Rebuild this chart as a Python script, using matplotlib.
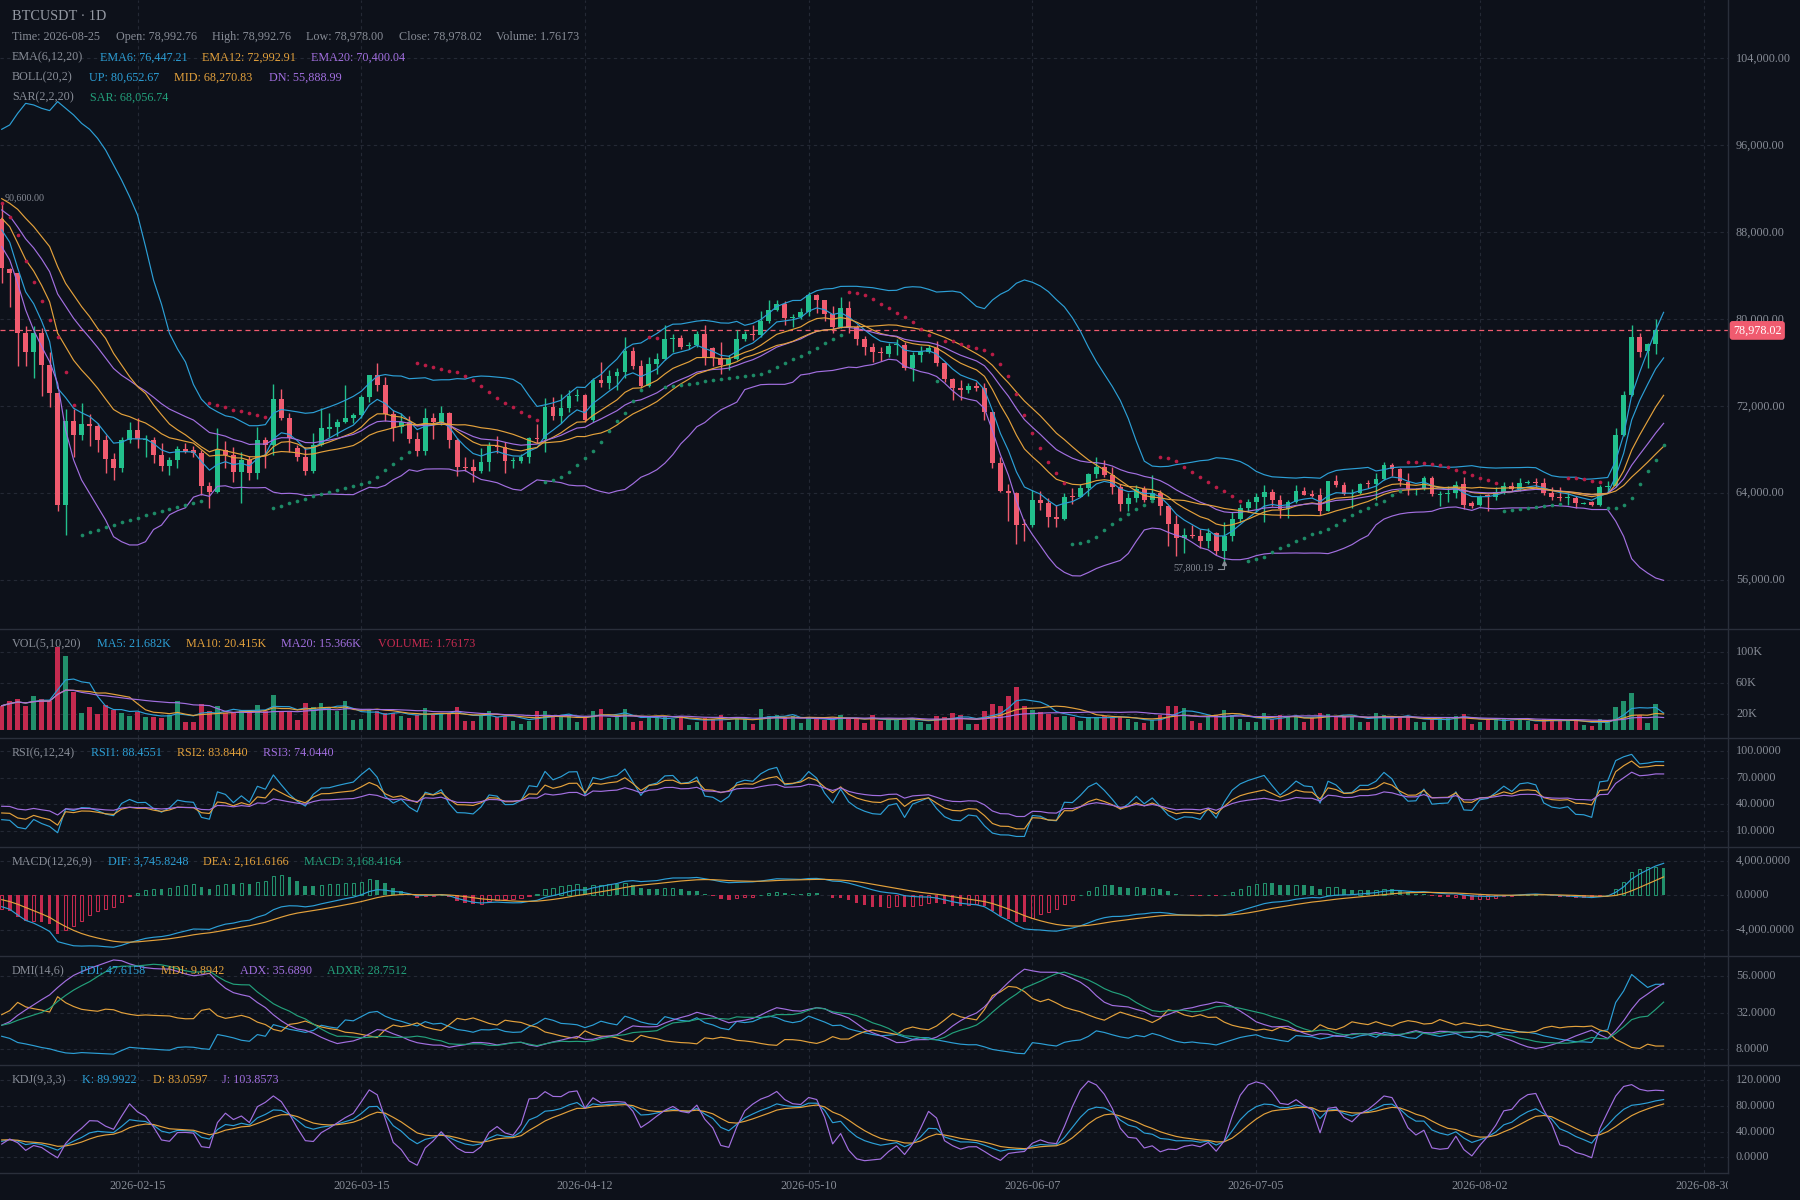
import numpy as np
import matplotlib
matplotlib.use("Agg")
import matplotlib.pyplot as plt
import matplotlib.transforms as mtransforms
from matplotlib.lines import Line2D
from datetime import date

plt.rcParams['font.family'] = ['Liberation Serif', 'DejaVu Serif']

# ---------------- data ----------------
start_date = date(2026, 1, 29)

opens = [89200, 84630, 84230, 78710, 77030, 78710, 75800, 73250, 62920, 70650,
         69360, 70340, 70190, 68900, 67180, 66350, 68900, 69820, 68950, 68900,
         67520, 66510, 67060, 68070, 67970, 67730, 64700, 64140, 67970, 67520,
         65980, 67060, 65890, 68900, 68440, 72640, 70890, 68130, 67360, 66080,
         68440, 69900, 70060, 70520, 70950, 71200, 72820, 74880, 73960, 71290,
         70060, 70520, 68990, 67880, 70950, 70520, 71410, 68900, 66440, 66440,
         66080, 66840, 68380, 68220, 66960, 66990, 67360, 69110, 68960, 71960,
         71140, 71810, 72950, 73040, 70740, 74420, 74170, 74790, 75190, 77090,
         75740, 73870, 75890, 76350, 78220, 78310, 77550, 77670, 78650, 77330,
         76410, 75800, 76350, 78190, 78650, 78560, 79850, 80860, 81410, 80090,
         80180, 80640, 82240, 81780, 80490, 79330, 81010, 79260, 78190, 77420,
         76960, 76810, 77610, 77640, 75550, 76720, 77030, 77330, 76010, 74510,
         73650, 73500, 73870, 73710, 71500, 66810, 64210, 63990, 61170, 61080,
         63380, 63130, 61840, 61600, 63700, 63620, 64510, 65770, 66440, 65680,
         64600, 63010, 63530, 64390, 63380, 63990, 62860, 61170, 59910, 60160,
         60070, 59640, 60310, 58720, 60100, 61600, 62610, 63220, 63680, 64140,
         63380, 62520, 63220, 64210, 63900, 63840, 62360, 65130, 64760, 63900,
         63990, 64910, 64820, 65280, 66600, 66200, 65030, 64300, 64360, 65370,
         63870, 63930, 63990, 64850, 63070, 62920, 63780, 63620, 64140, 64670,
         64360, 64970, 65060, 64910, 63990, 63680, 63600, 63590, 63070, 63160,
         62920, 64600, 64700, 69360, 73040, 78410, 77090, 77700, 78992.76]

highs = [90600, 84700, 84300, 79390, 79390, 79170, 76960, 73250, 71720, 71720,
         72270, 71290, 70430, 69360, 67670, 69200, 70520, 70950, 69360, 69200,
         68590, 67360, 68350, 68590, 68350, 67970, 65060, 69970, 68840, 68220,
         67820, 67430, 70120, 69200, 74050, 73560, 71410, 68440, 68220, 69510,
         71810, 71350, 70800, 73960, 71350, 73040, 74880, 75950, 74660, 71660,
         71350, 71100, 69660, 71810, 71410, 72030, 71500, 69050, 67360, 67120,
         68190, 68680, 69240, 68680, 67360, 67580, 69200, 70370, 72730, 72880,
         73130, 73500, 73590, 73130, 74630, 76040, 75340, 75500, 78410, 77420,
         76260, 76560, 76870, 79480, 78620, 78560, 77880, 78960, 79480, 77490,
         77880, 76720, 79020, 78930, 79480, 80770, 81780, 81780, 81690, 80490,
         81010, 82480, 82330, 81780, 81260, 82020, 81690, 79480, 78500, 77790,
         77490, 77790, 78190, 77950, 77030, 77550, 77640, 78040, 76100, 74630,
         74420, 74170, 74270, 74110, 71500, 67360, 64850, 64140, 61600, 64300,
         64210, 63530, 62920, 63990, 64510, 64850, 65890, 67360, 67060, 66440,
         64850, 63990, 64760, 64670, 65680, 64300, 62920, 62000, 60770, 61080,
         60680, 60770, 60470, 61380, 62240, 62980, 63470, 63990, 64760, 64360,
         63840, 63380, 64760, 64550, 64300, 64450, 65130, 65680, 65000, 64360,
         64910, 65220, 65830, 66900, 66750, 66290, 65830, 64510, 65590, 65590,
         64210, 64700, 65160, 65520, 63310, 63840, 63900, 64600, 65060, 65060,
         65430, 65220, 65370, 65430, 64600, 64540, 63990, 63750, 63160, 63280,
         64760, 65130, 70030, 73410, 79480, 78770, 77820, 80000, 78992.76]

lows = [83370, 81170, 75740, 75740, 74630, 72980, 71960, 62400, 60160, 67360,
        68900, 68350, 67820, 65830, 65220, 65980, 68590, 68130, 67360, 66750,
        66080, 65680, 66350, 67670, 67360, 63840, 62610, 64000, 66290, 65000,
        63130, 65220, 65340, 66290, 67520, 70740, 67820, 66990, 65680, 65890,
        68320, 69200, 69270, 70430, 70430, 70950, 72420, 73440, 70680, 68840,
        69510, 68590, 67430, 67520, 68990, 70280, 68130, 65590, 66080, 65060,
        65890, 66080, 67670, 65830, 66290, 66810, 66750, 68590, 67820, 70740,
        70490, 71500, 72520, 70520, 70520, 73810, 73560, 73500, 74570, 75430,
        73650, 73740, 74940, 76260, 77030, 77240, 77270, 77490, 75800, 75740,
        74970, 75340, 76260, 78010, 78100, 78410, 79630, 80800, 79480, 79330,
        80000, 80310, 80550, 79880, 78770, 79170, 78710, 77640, 76720, 76100,
        76200, 76560, 76720, 75340, 74360, 76100, 76870, 75740, 74270, 72580,
        72580, 73250, 73440, 70740, 66290, 64140, 61470, 59300, 59640, 60860,
        62460, 60860, 60860, 61540, 62980, 63620, 63780, 65370, 65460, 63930,
        62400, 62400, 63220, 63220, 63380, 62000, 59140, 58220, 58460, 59850,
        58930, 58990, 58320, 57800.19, 59640, 61320, 62310, 62310, 61380, 62830,
        61690, 61750, 63070, 63840, 63690, 62000, 62360, 64600, 63840, 62610,
        63900, 64450, 63380, 65220, 65590, 64670, 63840, 63840, 64300, 63750,
        62830, 63200, 63600, 62550, 62610, 62860, 62400, 63380, 63900, 64210,
        64210, 64880, 64600, 63840, 63380, 63280, 62920, 62610, 63010, 62830,
        62830, 64140, 64600, 69300, 72980, 76560, 75550, 76780, 78978.00]

closes = [84690, 84290, 78770, 77030, 78710, 75830, 73250, 62920, 70650, 69360,
          70370, 70190, 68900, 67180, 66350, 68900, 69820, 68960, 69000, 67520,
          66510, 67060, 68070, 67820, 67730, 64700, 64140, 67970, 67520, 65980,
          67060, 65890, 68900, 68440, 72640, 70950, 69050, 67360, 66080, 68440,
          69970, 70060, 70520, 70890, 71200, 72820, 74880, 73960, 71290, 69970,
          70520, 68990, 67880, 70950, 70520, 71410, 68900, 66440, 66350, 66080,
          66840, 68380, 68220, 66990, 67000, 67360, 69050, 68960, 71960, 71140,
          71810, 72980, 73040, 70740, 74420, 74170, 74790, 75190, 77090, 75740,
          73870, 75890, 76350, 78190, 78310, 77490, 77670, 78650, 76560, 76410,
          75800, 76350, 78190, 78650, 78560, 79850, 80860, 81410, 80090, 80250,
          80640, 82240, 81780, 80490, 79330, 81010, 79260, 78190, 77490, 76990,
          76870, 77550, 77700, 75550, 76720, 77030, 77330, 76010, 74510, 73650,
          73500, 73870, 73710, 71500, 66810, 64210, 63990, 61080, 61080, 63380,
          63130, 61840, 61600, 63680, 63620, 64510, 65770, 66440, 65680, 64600,
          63010, 63530, 64390, 63380, 63990, 62860, 61170, 59910, 60160, 60070,
          59640, 60370, 58720, 60100, 61600, 62610, 63220, 63680, 64140, 63380,
          62520, 63220, 64210, 63840, 63780, 62360, 65130, 64760, 63900, 63990,
          64820, 64820, 65280, 66600, 66200, 65160, 64360, 64390, 65370, 63900,
          63960, 63990, 64790, 62920, 62860, 63620, 63720, 64140, 64670, 64360,
          64970, 65060, 64970, 63990, 63680, 63590, 63650, 63130, 63100, 62920,
          64600, 64700, 69360, 73040, 78410, 77030, 77700, 78992.76, 78978.02]

volumes_k = [31, 36.5, 40, 31, 43, 40, 37, 107, 94.6, 48.6,
             22, 30, 20.6, 32, 26, 21.5, 18, 23, 16, 17,
             15, 19, 36.5, 9.5, 9.5, 33.5, 23.6, 31, 22, 22,
             26, 23.6, 32, 24.5, 45, 24.5, 23, 13, 35, 29,
             35, 29, 24.5, 36.5, 13, 14, 26, 24.5, 21.5, 21.5,
             18, 15, 19, 28, 19, 20, 21.5, 29, 11.6, 10.8,
             19, 23.6, 17, 18, 11.6, 7.3, 11.6, 23.6, 24.5, 17,
             17, 19, 9.5, 17, 24.5, 26.7, 15, 16.3, 26.7, 9.5,
             11.6, 17, 15, 18, 14, 18, 6.5, 9.5, 15, 14,
             19, 9.5, 17, 14, 7.3, 27, 18, 19, 16, 18,
             8.6, 16.3, 14, 13, 13, 19, 15, 14, 8.6, 19,
             11.6, 13, 13, 13, 15, 9.5, 7.7, 18, 16.3, 21.5,
             19, 7.7, 7.7, 24.5, 33.5, 31, 43.9, 55, 31, 26,
             23, 20.6, 16.3, 18, 16.3, 10.8, 16.3, 16.3, 18, 17,
             16.3, 14, 10, 8.6, 13, 19, 31, 31, 28, 10.8,
             8.6, 18, 19, 26, 19, 14, 9.5, 9.5, 21.5, 14,
             19, 18, 18, 9.5, 16.3, 21.5, 20.6, 18, 18, 18,
             9.5, 9.5, 21.5, 19, 16.3, 16.3, 18, 9.5, 9.5, 14,
             16.3, 16.3, 18, 20, 7.3, 9.5, 14, 15, 14, 10.8,
             14, 10.8, 7.7, 14, 12, 14, 12, 10.8, 6.5, 5.2,
             14, 10.8, 29, 36.5, 47, 19.4, 8.6, 33, 0.00176]

# indicator state at the left edge of the chart (history before the first visible candle)
boll_head_up = [97480, 97880, 98950, 99870, 99720, 99410, 99200, 100030, 99410, 98800,
                98030, 97480, 96650, 95580, 94200, 92820, 91290, 89600, 86690]
boll_head_mid = [91100, 90670, 90120, 89290, 88530, 87610, 86690, 84850, 83310, 82240,
                 81170, 80250, 79170, 78250, 76870, 75800, 74730, 73810, 73190]
boll_head_dn = [86690, 85460, 83310, 80860, 79020, 77490, 76100, 74110, 69820, 67060,
                65220, 63990, 62760, 61540, 60000, 59540, 59240, 59240, 59540]
ema_seed = {6: 88220, 12: 89290, 20: 90060}
ema26_seed = 90590
dea_seed = -490
sar_seed, sar_seed_af = 90700, 0.18
rsi_seed = {6: 22.9, 12: 30.4, 24: 37.9}
rsi_seed_loss = 1800
dmi_seed_pdi, dmi_seed_mdi, dmi_seed_adx, dmi_seed_atr = 16.5, 30.6, 23.7, 3000
kdj_seed = 28

x_tick_labels = ['2026-02-15', '2026-03-15', '2026-04-12', '2026-05-10',
                 '2026-06-07', '2026-07-05', '2026-08-02', '2026-08-30']

price_ticks = [56000, 64000, 72000, 80000, 88000, 96000, 104000]
vol_ticks = [20000, 60000, 100000]
rsi_ticks = [10, 40, 70, 100]
macd_ticks = [-4000, 0, 4000]
dmi_ticks = [8, 32, 56]
kdj_ticks = [0, 40, 80, 120]

# ---------------- indicators ----------------
o = np.array(opens, float); h = np.array(highs, float)
l = np.array(lows, float); c = np.array(closes, float)
v = np.array(volumes_k, float) * 1000
N = len(c)
x = np.arange(N)


def ema(vals, n, seed):
    out = np.zeros(len(vals)); out[0] = seed
    for i in range(1, len(vals)):
        out[i] = (2 * vals[i] + (n - 1) * out[i - 1]) / (n + 1)
    return out


def sma_expanding(vals, n):
    out = np.zeros(len(vals))
    for i in range(len(vals)):
        out[i] = vals[max(0, i - n + 1):i + 1].mean()
    return out


ema6 = ema(c, 6, ema_seed[6]); ema12 = ema(c, 12, ema_seed[12]); ema20 = ema(c, 20, ema_seed[20])

bmid = np.zeros(N); bup = np.zeros(N); bdn = np.zeros(N)
nh = len(boll_head_mid)
for i in range(N):
    if i < nh:
        bmid[i], bup[i], bdn[i] = boll_head_mid[i], boll_head_up[i], boll_head_dn[i]
    else:
        w = c[i - 19:i + 1]
        m = w.mean(); s = w.std()
        bmid[i], bup[i], bdn[i] = m, m + 2 * s, m - 2 * s

# SAR
sar = np.zeros(N); sar_up = np.zeros(N, bool)
s_val = sar_seed; ep = l[0]; af = sar_seed_af; rising = False
sar[0] = s_val
for i in range(1, N):
    s_new = s_val + af * (ep - s_val)
    if rising:
        if l[i] < s_new:
            rising = False; s_new = ep; ep = l[i]; af = 0.02
        elif h[i] > ep:
            ep = h[i]; af = min(af + 0.02, 0.2)
    else:
        if h[i] > s_new:
            rising = True; s_new = ep; ep = h[i]; af = 0.02
        elif l[i] < ep:
            ep = l[i]; af = min(af + 0.02, 0.2)
    sar[i] = s_new; sar_up[i] = rising; s_val = s_new

vma5 = sma_expanding(v, 5); vma10 = sma_expanding(v, 10); vma20 = sma_expanding(v, 20)

diff = np.concatenate([[0], np.diff(c)])


def rsi(n):
    out = np.zeros(N)
    al = rsi_seed_loss
    ag = al * rsi_seed[n] / (100 - rsi_seed[n])
    out[0] = rsi_seed[n]
    for i in range(1, N):
        g = max(diff[i], 0); ls = max(-diff[i], 0)
        ag = (ag * (n - 1) + g) / n
        al = (al * (n - 1) + ls) / n
        out[i] = 100 * ag / (ag + al) if ag + al > 0 else 50
    return out


rsi1, rsi2, rsi3 = rsi(6), rsi(12), rsi(24)

m12 = ema(c, 12, ema_seed[12]); m26 = ema(c, 26, ema26_seed)
dif = m12 - m26
dea = ema(dif, 9, dea_seed)
macd = 2 * (dif - dea)

# DMI (Wilder smoothing, seeded with the values at the left edge)
mtr = dmi_seed_atr * 14
dmp = mtr * dmi_seed_pdi / 100
dmm = mtr * dmi_seed_mdi / 100
pdi = np.zeros(N); mdi = np.zeros(N); adx = np.zeros(N)
pdi[0], mdi[0], adx[0] = dmi_seed_pdi, dmi_seed_mdi, dmi_seed_adx
for i in range(1, N):
    pc, ph, pl = c[i - 1], h[i - 1], l[i - 1]
    tr = max(h[i] - l[i], abs(h[i] - pc), abs(pc - l[i]))
    upm = h[i] - ph; dnm = pl - l[i]
    pdm = upm if (upm > 0 and upm > dnm) else 0
    mdm = dnm if (dnm > 0 and dnm > upm) else 0
    mtr = mtr - mtr / 14 + tr; dmp = dmp - dmp / 14 + pdm; dmm = dmm - dmm / 14 + mdm
    pdi[i] = dmp * 100 / mtr; mdi[i] = dmm * 100 / mtr
    dx = abs(mdi[i] - pdi[i]) / (mdi[i] + pdi[i]) * 100 if (mdi[i] + pdi[i]) else 0
    adx[i] = (adx[i - 1] * 5 + dx) / 6
adxr = np.array([(adx[i] + (adx[i - 5] if i >= 5 else dmi_seed_adx)) / 2 for i in range(N)])

# KDJ
kk = np.zeros(N); dd = np.zeros(N)
pk, pd_ = float(kdj_seed), float(kdj_seed)
for i in range(N):
    lo = l[max(0, i - 8):i + 1].min(); hi = h[max(0, i - 8):i + 1].max()
    rsv = (c[i] - lo) / (hi - lo) * 100 if hi > lo else 50
    pk = (2 * pk + rsv) / 3; pd_ = (2 * pd_ + pk) / 3
    kk[i] = pk; dd[i] = pd_
jj = 3 * kk - 2 * dd

# ---------------- drawing ----------------
BG = '#0d111a'
GRID = '#242935'
SEP = '#2a2f3b'
GREY = '#878c96'
UP = '#22c08c'
DOWN = '#f05b6f'
VUP = '#22906c'
VDOWN = '#c42a4f'
BLUE = '#2c9fd6'
ORANGE = '#e3a13c'
PURPLE = '#a26fe0'
TEAL = '#23a07b'
CRIMSON = '#c62a50'
SAR_UP = '#1d8a66'
SAR_DN = '#b81d46'

W, H = 1800, 1200
AXR = 1728
PX = 7.99          # pixels per candle
X0 = 1.7           # pixel of first candle
XL = -X0 / PX
XR = (AXR - X0) / PX
FS = 8.7
LW = 0.85

fig = plt.figure(figsize=(18, 12), dpi=100, facecolor=BG)


def add_panel(top, bottom, ylim):
    ax = fig.add_axes([0, 1 - bottom / H, AXR / W, (bottom - top) / H])
    ax.set_facecolor(BG)
    for sp in ax.spines.values():
        sp.set_visible(False)
    ax.set_xticks([]); ax.set_yticks([])
    ax.set_xlim(XL, XR)
    ax.set_ylim(*ylim)
    return ax


tick_idx = [(date.fromisoformat(t) - start_date).days for t in x_tick_labels]


def grid(ax, yticks, fmt):
    for t in tick_idx:
        ax.axvline(t, color=GRID, lw=0.8, ls=(0, (3, 3)), zorder=0)
    for yv in yticks:
        ax.axhline(yv, color=GRID, lw=0.8, ls=(0, (3, 3)), zorder=0)
        ax.text(1 + 8 / AXR, yv, fmt(yv), transform=ax.get_yaxis_transform(),
                ha='left', va='center', color=GREY, fontsize=FS, clip_on=False)


def header(y, items):
    for xp, s, col in items:
        fig.text(xp / W, 1 - y / H, s, color=col, fontsize=FS, ha='left', va='center')


# main panel
axm = add_panel(0, 629, (51508, 109376))
grid(axm, price_ticks, lambda t: f"{t:,.2f}")
up = c >= o
col = np.where(up, UP, DOWN)
axm.vlines(x, l, h, colors=col, lw=1.0, zorder=3)
body_h = np.abs(c - o)
mid = (c + o) / 2
bh = np.maximum(body_h, 80)
axm.bar(x, bh, bottom=mid - bh / 2, width=0.6, color=col, linewidth=0, zorder=4)
for series, cl in [(ema6, BLUE), (ema12, ORANGE), (ema20, PURPLE),
                   (bup, BLUE), (bmid, ORANGE), (bdn, PURPLE)]:
    axm.plot(x, series, color=cl, lw=LW, zorder=5)
axm.scatter(x[sar_up], sar[sar_up], s=7, color=SAR_UP, zorder=6, linewidths=0)
axm.scatter(x[~sar_up], sar[~sar_up], s=7, color=SAR_DN, zorder=6, linewidths=0)
last = c[-1]
axm.axhline(last, color=DOWN, lw=0.9, ls=(0, (4, 3)), zorder=2)
axm.text(1 + 5 / AXR, last, f"{last:,.2f}", transform=axm.get_yaxis_transform(),
         ha='left', va='center', color='white', fontsize=FS, clip_on=False, zorder=10,
         bbox=dict(boxstyle='round,pad=0.28,rounding_size=0.25', fc=DOWN, ec='none'))

# max / min marks
imax = int(np.argmax(h)); imin = int(np.argmin(l))
axm.annotate(f"{h[imax]:,.2f}", xy=(imax, h[imax]), xytext=(1.8, 4.7), textcoords='offset points',
             ha='left', va='center', color=GREY, fontsize=7.3)
axm.annotate(f"{l[imin]:,.2f}", xy=(imin, l[imin]), xytext=(-7.5, -5.3), textcoords='offset points',
             ha='right', va='center', color=GREY, fontsize=7.3)
px_, py_ = axm.transData.transform((imin, l[imin]))
fig.add_artist(Line2D([px_ - 6, px_, px_], [py_ - 8, py_ - 8, py_ - 2], color=GREY, lw=0.8,
                      transform=mtransforms.IdentityTransform()))
fig.add_artist(Line2D([px_], [py_ - 2.5], marker='^', markersize=2.8, color=GREY, lw=0,
                      transform=mtransforms.IdentityTransform()))

# header texts
fig.text(12 / W, 1 - 16 / H, 'BTCUSDT · 1D', color='#9499a3', fontsize=10.3, ha='left', va='center')
header(36.7, [(12, 'Time: 2026-08-25', GREY), (115.5, 'Open: 78,992.76', GREY),
              (211.5, 'High: 78,992.76', GREY), (306, 'Low: 78,978.00', GREY),
              (398.8, 'Close: 78,978.02', GREY), (496.4, 'Volume: 1.76173', GREY)])
header(57.3, [(12, 'EMA(6,12,20)', GREY), (99.5, 'EMA6: 76,447.21', BLUE),
              (202, 'EMA12: 72,992.91', ORANGE), (311, 'EMA20: 70,400.04', PURPLE)])
header(77.3, [(12, 'BOLL(20,2)', GREY), (88.8, 'UP: 80,652.67', BLUE),
              (174.5, 'MID: 68,270.83', ORANGE), (268.7, 'DN: 55,888.99', PURPLE)])
header(97.3, [(12, 'SAR(2,2,20)', GREY), (89.6, 'SAR: 68,056.74', TEAL)])

# volume panel
axv = add_panel(629, 738, (-10600, 130000))
grid(axv, vol_ticks, lambda t: f"{int(t / 1000)}K")
axv.bar(x, v, width=0.55, color=np.where(up, VUP, VDOWN), linewidth=0, zorder=3)
for series, cl in [(vma5, BLUE), (vma10, ORANGE), (vma20, PURPLE)]:
    axv.plot(x, series, color=cl, lw=LW, zorder=5)
header(644, [(12, 'VOL(5,10,20)', GREY), (97, 'MA5: 21.682K', BLUE), (186, 'MA10: 20.415K', ORANGE),
             (281, 'MA20: 15.366K', PURPLE), (377.5, 'VOLUME: 1.76173', CRIMSON)])

# RSI panel
axr = add_panel(738, 847, (-7.7, 114.3))
grid(axr, rsi_ticks, lambda t: f"{t:.4f}")
for series, cl in [(rsi1, BLUE), (rsi2, ORANGE), (rsi3, PURPLE)]:
    axr.plot(x, series, color=cl, lw=LW, zorder=5)
header(753, [(12, 'RSI(6,12,24)', GREY), (91, 'RSI1: 88.4551', BLUE), (177, 'RSI2: 83.8440', ORANGE),
             (263, 'RSI3: 74.0440', PURPLE)])

# MACD panel: filled bars when the histogram falls, hollow bars when it rises
axc = add_panel(847, 956, (-7030, 5625))
grid(axc, macd_ticks, lambda t: f"{t:,.4f}")
prev = np.concatenate([[-np.inf], macd[:-1]])
rising_bar = macd > prev
mcol = np.where(macd >= 0, VUP, VDOWN)
axc.bar(x[~rising_bar], macd[~rising_bar], width=0.46, color=mcol[~rising_bar], linewidth=0, zorder=3)
axc.bar(x[rising_bar], macd[rising_bar], width=0.40, fill=False, edgecolor=mcol[rising_bar],
        linewidth=0.75, zorder=3)
axc.plot(x, dif, color=BLUE, lw=LW, zorder=5)
axc.plot(x, dea, color=ORANGE, lw=LW, zorder=5)
header(862, [(12, 'MACD(12,26,9)', GREY), (108, 'DIF: 3,745.8248', BLUE), (203, 'DEA: 2,161.6166', ORANGE),
             (304, 'MACD: 3,168.4164', TEAL)])

# DMI panel
axd = add_panel(956, 1065, (-2.25, 68.9))
grid(axd, dmi_ticks, lambda t: f"{t:.4f}")
for series, cl in [(pdi, BLUE), (mdi, ORANGE), (adx, PURPLE), (adxr, TEAL)]:
    axd.plot(x, series, color=cl, lw=LW, zorder=5)
header(971, [(12, 'DMI(14,6)', GREY), (80, 'PDI: 47.6158', BLUE), (161, 'MDI: 9.8942', ORANGE),
             (240, 'ADX: 35.6890', PURPLE), (327, 'ADXR: 28.7512', TEAL)])

# KDJ panel
axk = add_panel(1065, 1173, (-24.7, 143.9))
grid(axk, kdj_ticks, lambda t: f"{t:.4f}")
for series, cl in [(kk, BLUE), (dd, ORANGE), (jj, PURPLE)]:
    axk.plot(x, series, color=cl, lw=LW, zorder=5)
header(1080, [(12, 'KDJ(9,3,3)', GREY), (82, 'K: 89.9922', BLUE), (153, 'D: 83.0597', ORANGE),
              (222, 'J: 103.8573', PURPLE)])

# date axis
axx = fig.add_axes([0, 0, AXR / W, 27 / H])
axx.set_facecolor(BG)
for sp in axx.spines.values():
    sp.set_visible(False)
axx.set_xticks([]); axx.set_yticks([])
axx.set_xlim(XL, XR); axx.set_ylim(0, 1)
for t, lab in zip(tick_idx, x_tick_labels):
    axx.text(t, 0.52, lab, ha='center', va='center', color=GREY, fontsize=FS, clip_on=True)

# separators
for yp in [629, 738, 847, 956, 1065]:
    fig.add_artist(Line2D([0, 1], [1 - yp / H] * 2, color=SEP, lw=1.0, transform=fig.transFigure))
fig.add_artist(Line2D([0, AXR / W], [1 - 1173 / H] * 2, color=SEP, lw=1.0, transform=fig.transFigure))
fig.add_artist(Line2D([AXR / W] * 2, [1 - 1173 / H, 1], color=SEP, lw=1.0, transform=fig.transFigure))

fig.savefig('out.png', dpi=100, facecolor=BG)
